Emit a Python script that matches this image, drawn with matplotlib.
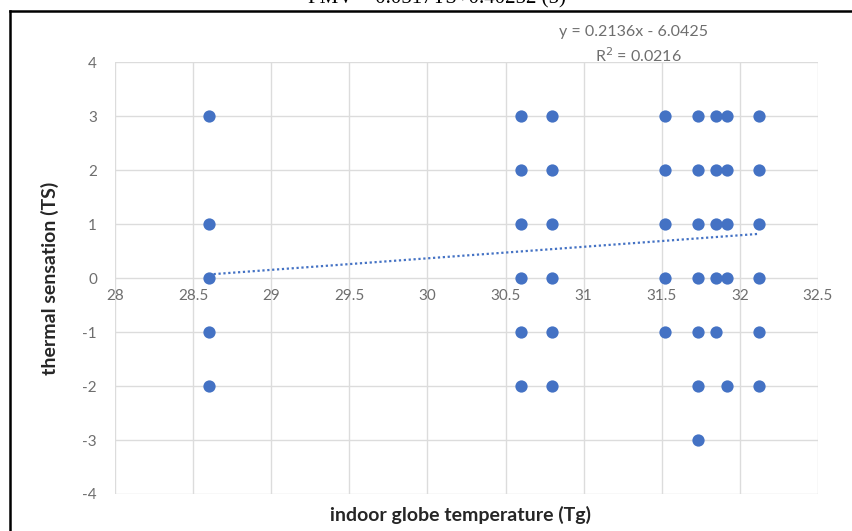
import matplotlib.pyplot as plt
from matplotlib.lines import Line2D
import numpy as np

# globe temperature (Tg) and the thermal sensation votes (TS) recorded at it
tg_values = [28.6, 30.6, 30.8, 31.52, 31.73, 31.85, 31.92, 32.12]
ts_votes = [
    [3, 1, 0, -1, -2],
    [3, 2, 1, 0, -1, -2],
    [3, 2, 1, 0, -1, -2],
    [3, 2, 1, 0, -1],
    [3, 2, 1, 0, -1, -2, -3],
    [3, 2, 1, 0, -1],
    [3, 2, 1, 0, -2],
    [3, 2, 1, 0, -1, -2],
]

# linear trend line
slope = 0.2136
intercept = -6.0425
r_squared = 0.0216

x_ticks = [28, 28.5, 29, 29.5, 30, 30.5, 31, 31.5, 32, 32.5]
y_ticks = [-4, -3, -2, -1, 0, 1, 2, 3, 4]

x = []
y = []
for t, votes in zip(tg_values, ts_votes):
    for v in votes:
        x.append(t)
        y.append(v)

plt.rcParams['font.family'] = ['Lato', 'DejaVu Sans']
plt.rcParams['axes.unicode_minus'] = False

fig = plt.figure(figsize=(8.52, 5.31), dpi=100)
ax = fig.add_axes([0.135, 0.0697, 0.825, 0.8133])

tick_color = '#6e6e6e'
ax.scatter(x, y, s=78, color='#4472c4', zorder=3, linewidths=0)

tx = np.array([min(x), max(x)])
ax.plot(tx, slope * tx + intercept, linestyle=(0, (1, 1.2)), color='#4472c4',
        linewidth=1.6, zorder=2)

ax.set_xlim(28, 32.5)
ax.set_ylim(-4, 4)
ax.set_xticks(x_ticks)
ax.set_yticks(y_ticks)
ax.grid(True, color='#dcdcdc', linewidth=1)
ax.set_axisbelow(True)
for s in ax.spines.values():
    s.set_visible(False)

# x tick labels sit on the y=0 line, Excel style
ax.set_xticklabels([])
ax.tick_params(length=0, labelsize=11, labelcolor=tick_color, pad=13)
for t in x_ticks:
    ax.text(t, -0.2, '%g' % t, ha='center', va='top', fontsize=11,
            color=tick_color)

fig.text(0.744, 0.94, 'y = %.4fx - %.4f' % (slope, -intercept), ha='center',
         va='center', fontsize=11.5, color=tick_color)
fig.text(0.749, 0.896, 'R$^2$ = %.4f' % r_squared, ha='center', va='center',
         fontsize=11.5, color=tick_color)

fig.text(0.54, 0.03, 'indoor globe temperature (Tg)', ha='center', va='center',
         fontsize=14, fontweight='bold', color='#262626')
fig.text(0.059, 0.475, 'thermal sensation (TS)', ha='center', va='center',
         rotation=90, fontsize=14, fontweight='bold', color='#262626')

# caption of the equation above, cut by the top edge
fig.text(0.513, 1 - 3 / 531, 'PMV = 0.0517TS+0.40252 (5)', ha='center',
         va='baseline', fontsize=15, family='Liberation Serif', color='black')

# frame around the chart
fig.add_artist(Line2D([10 / 852, 10 / 852], [0, 1 - 11 / 531],
                      transform=fig.transFigure, color='black', linewidth=1.8))
fig.add_artist(Line2D([10 / 852, 1], [1 - 11 / 531, 1 - 11 / 531],
                      transform=fig.transFigure, color='black', linewidth=1.8))

fig.savefig('out.png', dpi=100)
